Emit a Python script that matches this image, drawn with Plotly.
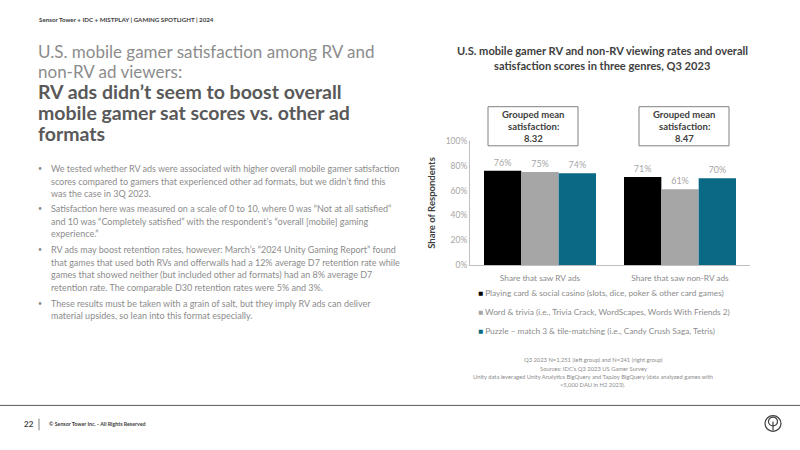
import plotly.graph_objects as go

categories = ["Share that saw RV ads", "Share that saw non-RV ads"]
series_names = [
    "Playing card & social casino (slots, dice, poker & other card games)",
    "Word & trivia (i.e., Trivia Crack, WordScapes, Words With Friends 2)",
    "Puzzle – match 3 & tile-matching (i.e., Candy Crush Saga, Tetris)",
]
playing_card = [0.76, 0.71]
word_trivia = [0.75, 0.61]
puzzle = [0.74, 0.70]
series_values = [playing_card, word_trivia, puzzle]
series_colors = ["#000000", "#A6A6A6", "#0A6A86"]
y_ticks = [0, 0.2, 0.4, 0.6, 0.8, 1.0]
y_tick_labels = ["0%", "20%", "40%", "60%", "80%", "100%"]
group_means = ["8.32", "8.47"]

FONT = "Lato"
W, H = 800, 450

def px(x):
    return x / W

def py(y):
    return 1 - y / H

fig = go.Figure()
for name, vals, col in zip(series_names, series_values, series_colors):
    fig.add_trace(go.Bar(
        x=categories, y=vals, name=name, marker_color=col,
        marker_line_width=0,
        texttemplate="%{y:.0%}", textposition="outside",
        textfont=dict(color="#A6A6A6", size=9, family=FONT),
        cliponaxis=False, showlegend=False,
    ))

annotations = []
shapes = []

def ann(text, x, y, size, color, xanchor="left", bold=False, family=FONT):
    annotations.append(dict(text=("<b>" + text + "</b>") if bold else text,
                            x=px(x), y=py(y), xref="paper", yref="paper",
                            xanchor=xanchor, yanchor="middle", showarrow=False,
                            align=xanchor if xanchor != "center" else "center",
                            font=dict(family=family, size=size, color=color)))

# header
ann("Sensor Tower + IDC + MISTPLAY | GAMING SPOTLIGHT | 2024", 37, 15, 6.2, "#404040", bold=True)

# title
title_light = ["U.S. mobile gamer satisfaction among RV and", "non-RV ad viewers:"]
title_bold = ["RV ads didn’t seem to boost overall", "mobile gamer sat scores vs. other ad", "formats"]
for i, t in enumerate(title_light):
    ann(t, 36, 47.5 + 20.5 * i, 17.0, "#8C8C8C")
for i, t in enumerate(title_bold):
    ann(t, 36, 88 + 21.5 * i, 19.5, "#595959", bold=True)

bullets = [
    ["We tested whether RV ads were associated with higher overall mobile gamer satisfaction",
     "scores compared to gamers that experienced other ad formats, but we didn’t find this",
     "was the case in 3Q 2023."],
    ["Satisfaction here was measured on a scale of 0 to 10, where 0 was “Not at all satisfied”",
     "and 10 was “Completely satisfied” with the respondent’s “overall [mobile] gaming",
     "experience.”"],
    ["RV ads may boost retention rates, however: March’s “2024 Unity Gaming Report” found",
     "that games that used both RVs and offerwalls had a 12% average D7 retention rate while",
     "games that showed neither (but included other ad formats) had an 8% average D7",
     "retention rate. The comparable D30 retention rates were 5% and 3%."],
    ["These results must be taken with a grain of salt, but they imply RV ads can deliver",
     "material upsides, so lean into this format especially."],
]
bullet_starts = [167, 208, 250, 305]
for para, y0 in zip(bullets, bullet_starts):
    ann("•", 36, y0, 7, "#8C8C8C")
    for j, line in enumerate(para):
        ann(line, 49, y0 + 13 * j, 9.0, "#8C8C8C")

# chart title
chart_title = ["U.S. mobile gamer RV and non-RV viewing rates and overall",
               "satisfaction scores in three genres, Q3 2023"]
for j, line in enumerate(chart_title):
    ann(line, 602, 47 + 15 * j, 11.1, "#404040", xanchor="center", bold=True)

# grouped mean boxes
for cx, m in zip([533, 684], group_means):
    shapes.append(dict(type="rect", xref="paper", yref="paper", x0=px(cx - 45), x1=px(cx + 45),
                       y0=py(104), y1=py(144), line=dict(color="#808080", width=1), fillcolor="white"))
    for j, line in enumerate(["Grouped mean", "satisfaction:", m]):
        ann(line, cx, 112 + 12.4 * j, 9.5, "#404040", xanchor="center", bold=True)

# custom legend
for j, (name, col) in enumerate(zip(series_names, series_colors)):
    annotations.append(dict(text="<span style='color:%s'>■</span> %s" % (col, name),
                            x=px(476), y=py(295 + 19 * j), xref="paper", yref="paper",
                            xanchor="left", yanchor="middle", showarrow=False,
                            font=dict(family=FONT, size=8.3, color="#8C8C8C")))

# footnote
foot = ["Q3 2023 N=1,251 (left group) and N=241 (right group)",
        "Sources: IDC’s Q3 2023 US Gamer Survey",
        "Unity data leveraged Unity Analytics BigQuery and TapJoy BigQuery (data analyzed games with",
        ">5,000 DAU in H2 2023)."]
for j, line in enumerate(foot):
    ann(line, 593, 363 + 8.4 * j, 5.8, "#8C8C8C", xanchor="center")

# footer
shapes.append(dict(type="line", xref="paper", yref="paper", x0=0, x1=1, y0=py(409.5), y1=py(409.5),
                   line=dict(color="#595959", width=1)))
shapes.append(dict(type="line", xref="paper", yref="paper", x0=px(39), x1=px(39), y0=py(423), y1=py(435),
                   line=dict(color="#808080", width=1)))
ann("22", 22, 429, 8, "#404040", bold=True)
ann("© Sensor Tower Inc. - All Rights Reserved", 47, 429, 5.3, "#404040", bold=True)
# logo
shapes.append(dict(type="circle", xref="paper", yref="paper", x0=px(765), x1=px(781), y0=py(420), y1=py(436),
                   line=dict(color="#404040", width=1.2)))
shapes.append(dict(type="circle", xref="paper", yref="paper", x0=px(768.5), x1=px(777.5), y0=py(421.5), y1=py(430.5),
                   line=dict(color="#404040", width=1.2)))
shapes.append(dict(type="line", xref="paper", yref="paper", x0=px(773), x1=px(773), y0=py(426), y1=py(435),
                   line=dict(color="#404040", width=1.2)))

fig.update_layout(
    width=W, height=H,
    margin=dict(l=0, r=0, t=0, b=0),
    paper_bgcolor="white", plot_bgcolor="white",
    barmode="group", bargap=0.2, bargroupgap=0,
    font=dict(family=FONT, color="#808080"),
    showlegend=False,
    xaxis=dict(domain=[px(470), px(750)], range=[-0.5, 1.5], showline=True, linecolor="#BFBFBF",
               linewidth=1, ticks="", tickfont=dict(size=8.3, color="#8C8C8C", family=FONT),
               ticklabelstandoff=5, showgrid=False, zeroline=False),
    yaxis=dict(domain=[py(266), py(139)], range=[0, 1.0], tickvals=y_ticks, ticktext=y_tick_labels,
               showline=True, linecolor="#BFBFBF", linewidth=1, ticks="", showgrid=False, zeroline=False,
               tickfont=dict(size=8.5, color="#A6A6A6", family=FONT),
               title=dict(text="<b>Share of Respondents</b>", font=dict(size=9.5, color="#404040", family=FONT),
                          standoff=8)),
    annotations=annotations, shapes=shapes,
)

fig.write_html("out.html")
